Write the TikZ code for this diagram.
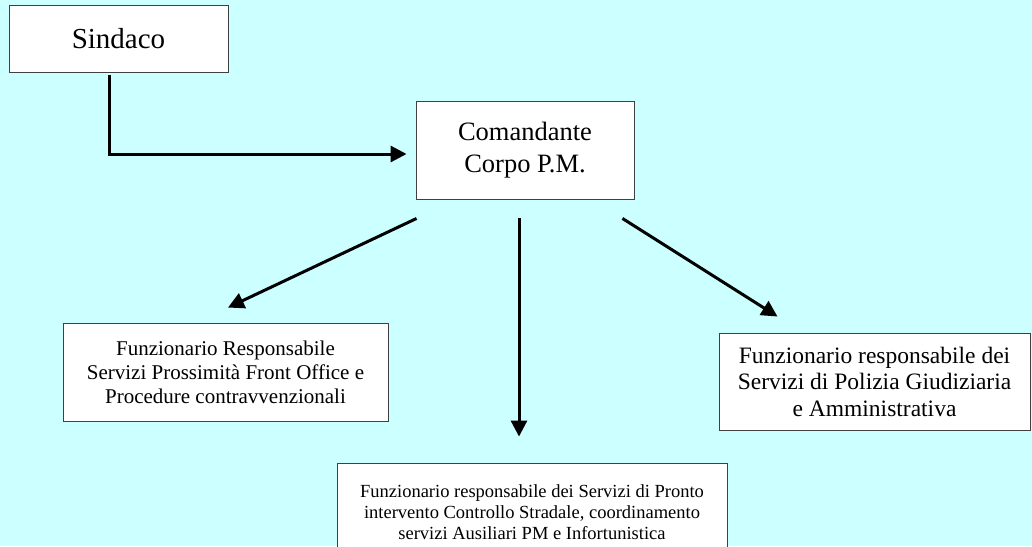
\documentclass[tikz,border=0pt]{standalone}
\usepackage{fontspec}
\setmainfont{Liberation Serif}
\usetikzlibrary{arrows.meta}
\definecolor{sfondo}{RGB}{204,255,255}

\begin{document}
\begin{tikzpicture}[x=1pt,y=-1pt,
  box/.style={draw=black!75,line width=0.9pt,fill=white,align=center,inner sep=0pt},
  link/.style={-{Triangle[length=16pt,width=16pt]},line width=3pt}]
  \useasboundingbox (0,0) rectangle (1032,546);
  \clip (0,0) rectangle (1032,546);
  \fill[sfondo] (0,0) rectangle (1032,546);

  \node[box,minimum width=219pt,minimum height=67pt,font=\fontsize{29}{33}\selectfont] (sind) at (118.5,38.5) {Sindaco};
  \node[box,minimum width=218pt,minimum height=98pt,font=\fontsize{26.5}{32}\selectfont] (com) at (525,150) {Comandante\\Corpo P.M.};
  \node[box,minimum width=325pt,minimum height=98pt,font=\fontsize{21}{24}\selectfont] (lft) at (225.5,372) {Funzionario Responsabile\\Servizi Prossimità Front Office e\\Procedure contravvenzionali};
  \node[box,minimum width=311pt,minimum height=97pt,font=\fontsize{23.5}{26.5}\selectfont] (rgt) at (874.5,381.5) {Funzionario responsabile dei\\Servizi di Polizia Giudiziaria\\e Amministrativa};
  \node[box,minimum width=390pt,minimum height=99pt,font=\fontsize{18.5}{21}\selectfont] (bot) at (532,512.5) {Funzionario responsabile dei Servizi di Pronto\\intervento Controllo Stradale, coordinamento\\servizi Ausiliari PM e Infortunistica};

  \coordinate (s1) at ([shift={(101pt,-3pt)}]sind.south west);
  \coordinate (s2) at ([shift={(-9pt,-4pt)}]com.west);
  \coordinate (c1) at ([shift={(1pt,-19pt)}]com.south west);
  \coordinate (l1) at ([shift={(2.5pt,15pt)}]lft.north);
  \coordinate (c2) at ([shift={(-6pt,-19pt)}]com.south);
  \coordinate (b1) at ([shift={(-13pt,26pt)}]bot.north);
  \coordinate (c3) at ([shift={(-12pt,-19pt)}]com.south east);
  \coordinate (r1) at ([shift={(59pt,16pt)}]rgt.north west);

  \draw[link] (s1) |- (s2);
  \path[link]
    (c1) edge (l1)
    (c2) edge (b1)
    (c3) edge (r1);
\end{tikzpicture}
\end{document}
